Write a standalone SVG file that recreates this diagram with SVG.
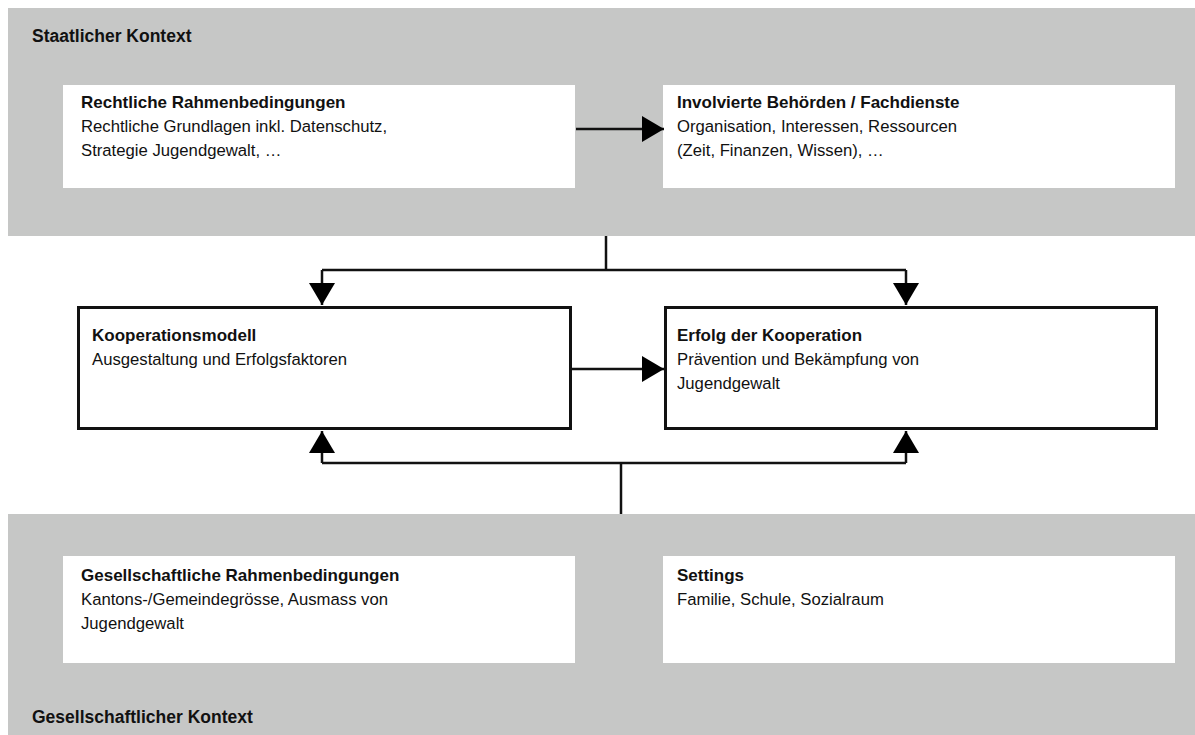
<svg xmlns="http://www.w3.org/2000/svg" width="1195" height="735" viewBox="0 0 1195 735">
<defs>
<style>
.band{fill:#c6c7c6}
.wbox{fill:#ffffff}
.obox{fill:#ffffff;stroke:#111;stroke-width:3}
.t{font-family:"Liberation Sans",Arial,sans-serif;font-size:16.7px;fill:#111}
.b{font-weight:bold;font-size:17px}
.ctx{font-family:"Liberation Sans",Arial,sans-serif;font-size:17.5px;font-weight:bold;fill:#111}
.ln{fill:none;stroke:#111;stroke-width:2.5}
</style>
<marker id="ah" viewBox="0 0 22 26" refX="22" refY="13" markerWidth="22" markerHeight="26" markerUnits="userSpaceOnUse" orient="auto">
<path d="M0,0 L22,13 L0,26 Z" fill="#000"/>
</marker>
</defs>
<rect width="1195" height="735" fill="#fff"/>
<g id="staatlicher-kontext">
<rect class="band" x="8" y="8" width="1187" height="228"/>
<text class="ctx" x="32" y="42">Staatlicher Kontext</text>
</g>
<g id="gesellschaftlicher-kontext">
<rect class="band" x="8" y="514" width="1187" height="221"/>
<text class="ctx" x="32" y="723">Gesellschaftlicher Kontext</text>
</g>
<g id="rechtliche">
<rect class="wbox" x="63" y="85" width="512" height="103"/>
<text class="t b" x="81" y="108">Rechtliche Rahmenbedingungen</text>
<text class="t" x="81" y="132">Rechtliche Grundlagen inkl. Datenschutz,</text>
<text class="t" x="81" y="156">Strategie Jugendgewalt, …</text>
</g>
<g id="involvierte">
<rect class="wbox" x="663" y="85" width="512" height="103"/>
<text class="t b" x="677" y="108">Involvierte Behörden / Fachdienste</text>
<text class="t" x="677" y="132">Organisation, Interessen, Ressourcen</text>
<text class="t" x="677" y="156">(Zeit, Finanzen, Wissen), …</text>
</g>
<g id="kooperationsmodell">
<rect class="obox" x="78.5" y="307.5" width="492" height="121"/>
<text class="t b" x="92" y="341">Kooperationsmodell</text>
<text class="t" x="92" y="365">Ausgestaltung und Erfolgsfaktoren</text>
</g>
<g id="erfolg">
<rect class="obox" x="665.5" y="307.5" width="491" height="121"/>
<text class="t b" x="677" y="341">Erfolg der Kooperation</text>
<text class="t" x="677" y="365">Prävention und Bekämpfung von</text>
<text class="t" x="677" y="389">Jugendgewalt</text>
</g>
<g id="gesellschaftliche">
<rect class="wbox" x="63" y="556" width="512" height="107"/>
<text class="t b" x="81" y="581">Gesellschaftliche Rahmenbedingungen</text>
<text class="t" x="81" y="605">Kantons-/Gemeindegrösse, Ausmass von</text>
<text class="t" x="81" y="629">Jugendgewalt</text>
</g>
<g id="settings">
<rect class="wbox" x="663" y="556" width="512" height="107"/>
<text class="t b" x="677" y="581">Settings</text>
<text class="t" x="677" y="605">Familie, Schule, Sozialraum</text>
</g>
<g id="connectors">
<path class="ln" d="M576,129 L664,129" marker-end="url(#ah)"/>
<path class="ln" d="M606,236 L606,270"/>
<path class="ln" d="M906,270 L322,270"/>
<path class="ln" d="M322,270 L322,305" marker-end="url(#ah)"/>
<path class="ln" d="M906,270 L906,305" marker-end="url(#ah)"/>
<path class="ln" d="M572,369 L664,369" marker-end="url(#ah)"/>
<path class="ln" d="M621,514 L621,463"/>
<path class="ln" d="M322,463 L906,463"/>
<path class="ln" d="M322,463 L322,431" marker-end="url(#ah)"/>
<path class="ln" d="M906,463 L906,431" marker-end="url(#ah)"/>
</g>
</svg>
